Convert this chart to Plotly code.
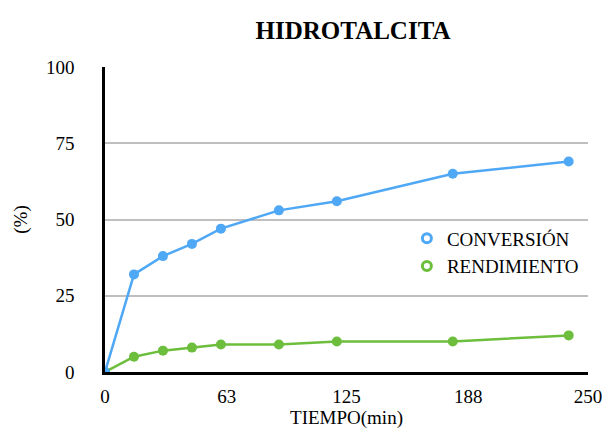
import plotly.graph_objects as go

tiempo = [0, 15, 30, 45, 60, 90, 120, 180, 240]
conversion = [0, 32, 38, 42, 47, 53, 56, 65, 69]
rendimiento = [0, 5, 7, 8, 9, 9, 10, 10, 12]
x_ticks = [0, 63, 125, 188, 250]
y_ticks = [0, 25, 50, 75, 100]

blue = "#4FA8F5"
green = "#6CBE3C"
fam = "Times New Roman"
f = dict(family=fam, size=19, color="black")

fig = go.Figure()
fig.add_trace(go.Scatter(x=tiempo, y=rendimiento, mode="lines+markers",
                         line=dict(color=green, width=2.5),
                         marker=dict(size=10, color=green), showlegend=False))
fig.add_trace(go.Scatter(x=tiempo, y=conversion, mode="lines+markers",
                         line=dict(color=blue, width=2.5),
                         marker=dict(size=10, color=blue), showlegend=False))
fig.add_trace(go.Scatter(x=[-50], y=[-50], mode="markers", name="CONVERSIÓN",
                         marker=dict(symbol="circle-open", size=9, color=blue, line=dict(width=3))))
fig.add_trace(go.Scatter(x=[-50], y=[-50], mode="markers", name="RENDIMIENTO",
                         marker=dict(symbol="circle-open", size=9, color=green, line=dict(width=3))))

fig.update_layout(
    width=614, height=438,
    margin=dict(l=105, r=16, t=67, b=64),
    plot_bgcolor="white",
    font=f,
    title=dict(text="<b>HIDROTALCITA</b>", x=0.575, xanchor="center", y=0.93, yanchor="middle",
               font=dict(family=fam, size=25, color="black")),
    xaxis=dict(range=[0, 250], tickvals=x_ticks, ticktext=[str(v) for v in x_ticks],
               tickfont=f,
               showgrid=False, zeroline=False, showline=True, linecolor="black", linewidth=2.5,
               ticks="outside", ticklen=5, tickcolor="white",
               title=dict(text="TIEMPO(min)", font=f, standoff=6)),
    yaxis=dict(range=[0, 100], tickvals=y_ticks, tickfont=f,
               showgrid=True, gridcolor="#BFBFBF", gridwidth=2,
               zeroline=False, showline=True, linecolor="black", linewidth=2.5,
               ticks="outside", ticklen=24, tickcolor="white",
               title=dict(text="(%)", font=f, standoff=14)),
    legend=dict(x=0.625, y=0.5, xanchor="left", yanchor="top", bgcolor="rgba(255,255,255,0)",
                font=f, itemwidth=30),
)
fig.write_html("out.html")
